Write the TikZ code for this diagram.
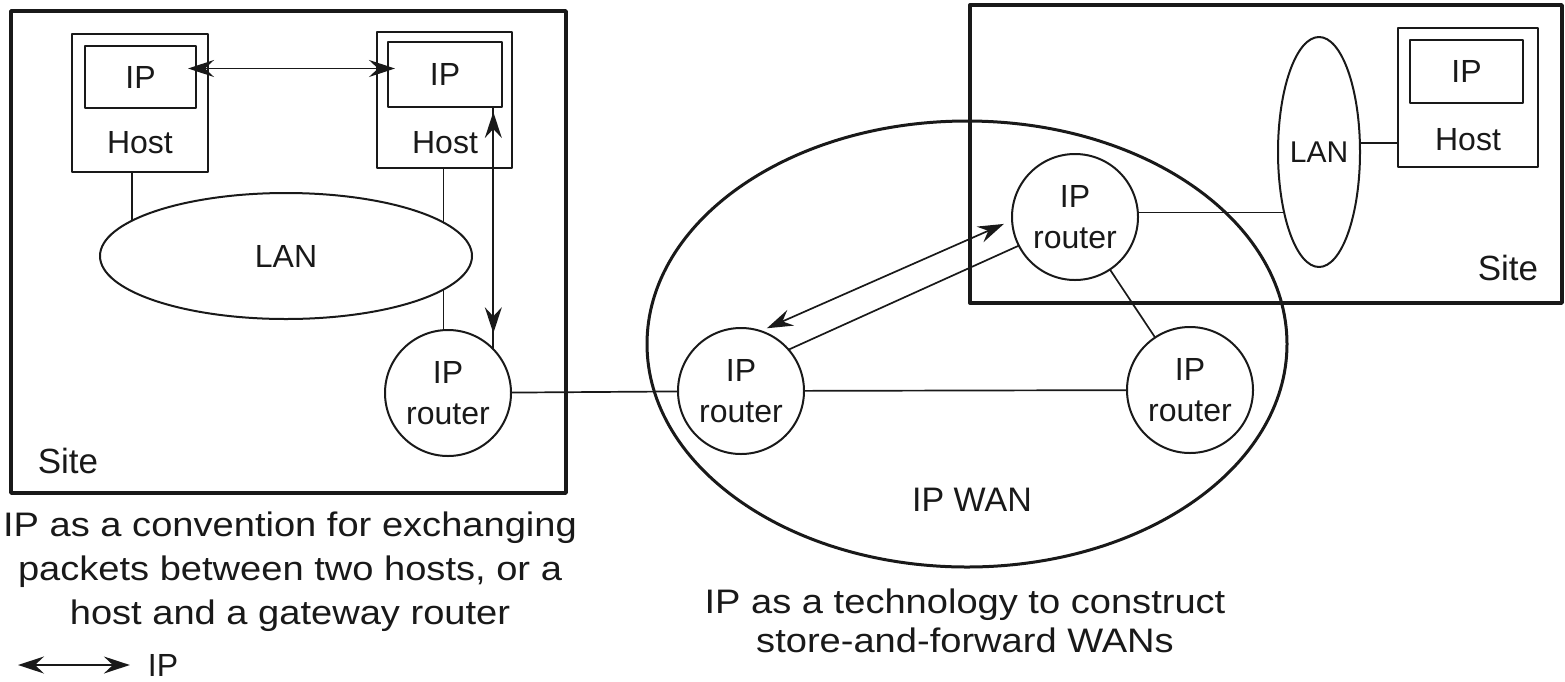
\documentclass[tikz,border=0pt]{standalone}
\usepackage{fontspec}
\setmainfont{Liberation Sans}
\newfontfamily\capfont[FakeStretch=1.12]{Liberation Sans}
\usetikzlibrary{shapes.geometric,arrows.meta,calc}
\definecolor{ink}{gray}{0.1}
\newcommand\lblfont{\fontsize{32}{38}\selectfont}
\newcommand\routerfont{\fontsize{32}{41}\selectfont}
\newcommand\sitefont{\fontsize{35}{40}\selectfont}
\begin{document}
\begin{tikzpicture}[x=1pt,y=-1pt, line join=round,
  every node/.style={outer sep=0pt, inner sep=0pt, text=ink},
  site/.style={draw=ink, line width=3.4pt, rectangle},
  hostbox/.style={draw=ink, line width=2.4pt, rectangle},
  ipbox/.style={draw=ink, line width=2pt, rectangle, font=\lblfont},
  router/.style={draw=ink, line width=2pt, circle, minimum size=126pt, align=center, font=\routerfont},
  lan/.style={draw=ink, line width=2pt, ellipse},
  wire/.style={draw=ink, line width=1.7pt},
  ipar/.style={draw=ink, line width=1.7pt, {Stealth[length=26pt,width=17pt,inset=9pt]}-{Stealth[length=26pt,width=17pt,inset=9pt]}},
  lbl/.style={font=\lblfont}
]
\useasboundingbox (0,0) rectangle (1565,681);

% sites and WAN
\node[site, minimum width=555pt, minimum height=482pt] (siteL) at (288.5,252) {};
\node[site, minimum width=592pt, minimum height=298pt] (siteR) at (1266,154) {};
\node[draw=ink, line width=3pt, ellipse, minimum width=640pt, minimum height=446pt] (wan) at (967,344) {};
\node[font=\fontsize{34}{40}\selectfont] (wanlbl) at (972,500) {IP WAN};
\node[font=\sitefont] (sl1) at (68,461) {Site};
\node[font=\sitefont] (sl2) at (1508,268) {Site};

% hosts
\node[hostbox, minimum width=136pt, minimum height=138pt] (h1) at (140,103) {};
\node[ipbox, minimum width=111pt, minimum height=62pt] (ip1) at (140.5,77) {IP};
\node[lbl] (hl1) at (140,143) {Host};

\node[hostbox, minimum width=135pt, minimum height=136pt] (h2) at (444.5,100) {};
\node[ipbox, minimum width=114pt, minimum height=65pt] (ip2) at (445,74.5) {IP};
\node[lbl] (hl2) at (445,143) {Host};

\node[hostbox, minimum width=140pt, minimum height=139pt] (h3) at (1468,97.5) {};
\node[ipbox, minimum width=113pt, minimum height=63pt] (ip3) at (1466.5,71.5) {IP};
\node[lbl] (hl3) at (1468,140) {Host};

% LANs
\node[lan, minimum width=372pt, minimum height=126pt, font=\lblfont] (lan1) at (286,256) {LAN};
\node[lan, minimum width=82pt, minimum height=230pt, label={[font=\fontsize{30}{36}\selectfont]center:LAN}] (lan2) at (1319,152) {};

% routers
\node[router] (r1) at (448,393) {IP\\router};
\node[router] (r2) at (741,391) {IP\\router};
\node[router] (r3) at (1075,217) {IP\\router};
\node[router] (r4) at (1190,390) {IP\\router};

% wires
\draw[wire] (h1.south -| lan1.167) -- (lan1.167);
\draw[wire] (h2.south -| lan1.12) -- (lan1.12);
\draw[wire] (lan1.348) -- (lan1.348 |- r1.north);
\draw[wire] (lan2.12) -- (lan2.12 -| h3.west);
\draw[wire] (r3.4) -- (r3.4 -| lan2.240);
\draw[wire] (r1) -- (r2);
\draw[wire] (r2) -- (r4);
\draw[wire] (r3) -- (r4);
\draw[wire] (r2.41) -- (r3.207);

% IP arrows
\draw[ipar, shorten <=-8pt, shorten >=-7pt] ([yshift=8.5pt]ip1.east) -- ([yshift=8.5pt]ip1.east -| ip2.west);
\draw[wire] (ip2.south -| r1.44) -- (r1.44);
\draw[ipar, shorten <=5pt, shorten >=16pt] (ip2.south -| r1.44) -- (r1.44);
\draw[ipar, shorten <=7pt, shorten >=9pt] (r2.72) -- (r3.183);

% captions
\node[font=\capfont\fontsize{34}{44}\selectfont, align=center, anchor=north] (cap1) at (290,512) {IP as a convention for exchanging\\packets between two hosts, or a\\host and a gateway router};
\node[font=\capfont\fontsize{34}{39}\selectfont, align=center, anchor=north] (cap2) at (965,589) {IP as a technology to construct\\store-and-forward WANs};

% legend
\node[lbl] (legip) at (163,665) {IP};
\coordinate (legl) at (18,665);
\draw[ipar, shorten >=18pt] (legl) -- (legip.west);
\end{tikzpicture}
\end{document}
